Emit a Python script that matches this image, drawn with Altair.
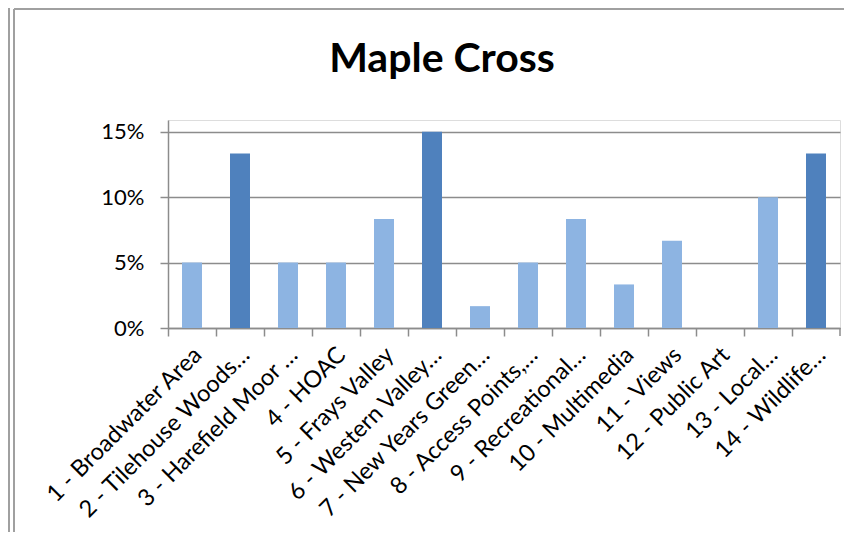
import altair as alt
import pandas as pd

categories = [
    "1 - Broadwater Area",
    "2 - Tilehouse Woods…",
    "3 - Harefield Moor …",
    "4 - HOAC",
    "5 - Frays Valley",
    "6 - Western Valley…",
    "7 - New Years Green…",
    "8 - Access Points,…",
    "9 - Recreational…",
    "10 - Multimedia",
    "11 - Views",
    "12 - Public Art",
    "13 - Local…",
    "14 - Wildlife…",
]
values = [0.05, 0.1333, 0.05, 0.05, 0.0833, 0.15, 0.0167, 0.05, 0.0833, 0.0333, 0.0667, 0.0, 0.10, 0.1333]
highlight = [False, True, False, False, False, True, False, False, False, False, False, False, False, True]
title_text = ["Maple Cross"]

df = pd.DataFrame({"cat": categories, "val": values, "hl": highlight})

FONT = "Lato"
GRAY = "#8c8c8c"
W, H = 672, 208

bars = alt.Chart(df).mark_bar(size=20).encode(
    x=alt.X(
        "cat:N",
        sort=categories,
        scale=alt.Scale(paddingInner=0, paddingOuter=0),
        axis=alt.Axis(
            title=None,
            bandPosition=0,
            labelAngle=-45,
            labelAlign="right",
            labelBaseline="middle",
            labelFontSize=23.5,
            labelFont=FONT,
            labelColor="black",
            labelOffset=6,
            labelPadding=15,
            labelLimit=0,
            tickSize=8,
            tickColor=GRAY,
            tickWidth=1.5,
            domainColor=GRAY,
            domainWidth=1.5,
            grid=False,
        ),
    ),
    y=alt.Y(
        "val:Q",
        scale=alt.Scale(domain=[0, 0.159], nice=False, zero=True),
        axis=alt.Axis(
            title=None,
            values=[0, 0.05, 0.10, 0.15],
            format=".0%",
            labelFontSize=22,
            labelFont=FONT,
            labelColor="black",
            labelPadding=16,
            tickSize=8,
            tickColor=GRAY,
            tickWidth=1.5,
            domainColor=GRAY,
            domainWidth=1.5,
            grid=True,
            gridColor=GRAY,
            gridWidth=1.5,
        ),
    ),
    color=alt.Color(
        "hl:N",
        scale=alt.Scale(domain=[False, True], range=["#8db4e2", "#4f81bd"]),
        legend=None,
    ),
)

title = alt.Chart(pd.DataFrame({"t": title_text})).mark_text(
    font=FONT, fontSize=41, fontWeight="bold", color="black",
    align="center", baseline="alphabetic",
).encode(text="t:N", x=alt.value(274), y=alt.value(-48))

frame_data = alt.Data(values=[{}])
left_outer = alt.Chart(frame_data).mark_rule(color="#a0a0a0", strokeWidth=2).encode(
    x=alt.value(-159), y=alt.value(-112), y2=alt.value(412)
)
left_inner = alt.Chart(frame_data).mark_rule(color="#a0a0a0", strokeWidth=2).encode(
    x=alt.value(-154), y=alt.value(-111), y2=alt.value(412)
)
top_line = alt.Chart(frame_data).mark_rule(color="#a0a0a0", strokeWidth=2).encode(
    x=alt.value(-154), x2=alt.value(684), y=alt.value(-111)
)
last_tick = alt.Chart(frame_data).mark_rule(color=GRAY, strokeWidth=1.5).encode(
    x=alt.value(W), y=alt.value(H), y2=alt.value(H + 8)
)

chart = alt.layer(bars, title, left_outer, left_inner, top_line, last_tick).properties(
    width=W,
    height=H,
    padding={"left": 160, "top": 112, "right": 4, "bottom": 204},
    autosize=alt.AutoSizeParams(type="none"),
).configure_view(stroke=None).configure(background="white")

chart.save("out.html", embed_options={"renderer": "svg", "actions": False})
